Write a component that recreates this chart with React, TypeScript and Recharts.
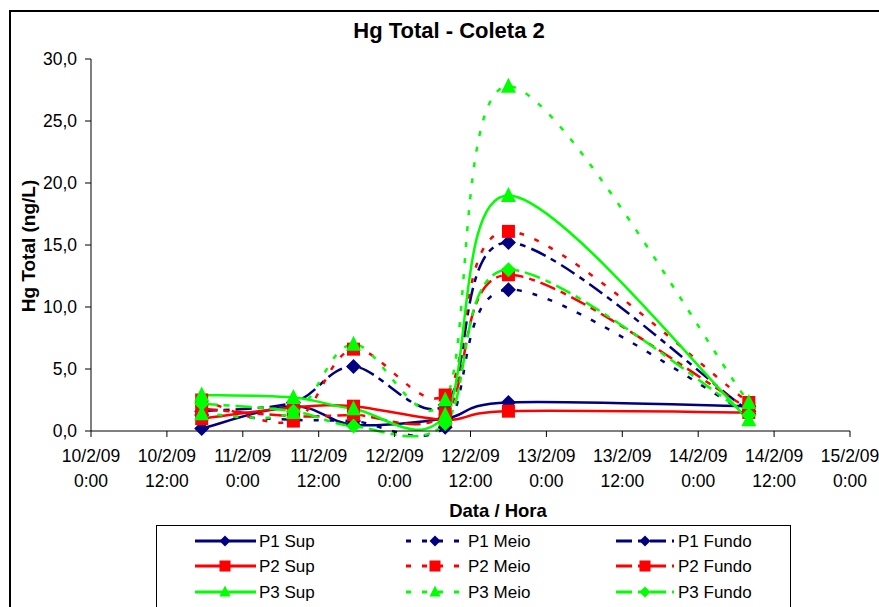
import React from "react";
import { LineChart, Line, XAxis, YAxis } from "recharts";

// sampling times, in hours after 10/2/09 0:00
const sampleHours = [17.5, 32, 41.5, 56, 66, 104];

const p1Sup = [0.2, 2.0, 0.5, 1.0, 2.3, 2.0];
const p1Meio = [1.3, 0.9, 0.8, 0.3, 11.4, 1.4];
const p1Fundo = [1.6, 2.3, 5.2, 2.1, 15.2, 1.6];
const p2Sup = [1.0, 1.9, 2.0, 0.9, 1.6, 1.5];
const p2Meio = [2.5, 0.8, 6.6, 2.9, 16.1, 2.3];
const p2Fundo = [1.8, 1.2, 1.3, 1.4, 12.6, 1.8];
const p3Sup = [2.9, 2.7, 1.8, 1.3, 19.0, 0.9];
const p3Meio = [1.4, 1.5, 7.0, 2.5, 27.8, 2.3];
const p3Fundo = [2.2, 1.6, 0.4, 0.6, 13.0, 1.3];

const xTickHours = [0, 12, 24, 36, 48, 60, 72, 84, 96, 108, 120];
const xTickDates = ["10/2/09", "10/2/09", "11/2/09", "11/2/09", "12/2/09", "12/2/09", "13/2/09", "13/2/09", "14/2/09", "14/2/09", "15/2/09"];
const xTickTimes = ["0:00", "12:00", "0:00", "12:00", "0:00", "12:00", "0:00", "12:00", "0:00", "12:00", "0:00"];
const yTicks = [0, 5, 10, 15, 20, 25, 30];
const yTickLabels = ["0,0", "5,0", "10,0", "15,0", "20,0", "25,0", "30,0"];

const NAVY = "#000080";
const RED = "#FF0000";
const GREEN = "#00FF00";
const DOTTED = "5 11";
const DASHDOT = "16 6 6 6";

const series = [
  { name: "P1 Sup", values: p1Sup, color: NAVY, dash: undefined, marker: "diamond" },
  { name: "P1 Meio", values: p1Meio, color: NAVY, dash: DOTTED, marker: "diamond" },
  { name: "P1 Fundo", values: p1Fundo, color: NAVY, dash: DASHDOT, marker: "diamond" },
  { name: "P2 Sup", values: p2Sup, color: RED, dash: undefined, marker: "square" },
  { name: "P2 Meio", values: p2Meio, color: RED, dash: DOTTED, marker: "square" },
  { name: "P2 Fundo", values: p2Fundo, color: RED, dash: DASHDOT, marker: "square" },
  { name: "P3 Sup", values: p3Sup, color: GREEN, dash: undefined, marker: "triangle" },
  { name: "P3 Meio", values: p3Meio, color: GREEN, dash: DOTTED, marker: "triangle" },
  { name: "P3 Fundo", values: p3Fundo, color: GREEN, dash: DASHDOT, marker: "diamond" },
];

const data = sampleHours.map((t, i) => {
  const row: Record<string, number> = { t };
  series.forEach((s) => (row[s.name] = s.values[i]));
  return row;
});

const FONT = "'Liberation Sans', Arial, sans-serif";

// Excel-like smoothed line (Catmull-Rom through the points)
const excelSmooth = (context: any) => {
  let pts: number[][] = [];
  return {
    areaStart() {},
    areaEnd() {},
    lineStart() {
      pts = [];
    },
    point(x: number, y: number) {
      pts.push([+x, +y]);
    },
    lineEnd() {
      const n = pts.length;
      if (!n) return;
      context.moveTo(pts[0][0], pts[0][1]);
      for (let i = 0; i < n - 1; i++) {
        const p0 = pts[Math.max(i - 1, 0)];
        const p1 = pts[i];
        const p2 = pts[i + 1];
        const p3 = pts[Math.min(i + 2, n - 1)];
        context.bezierCurveTo(
          p1[0] + (p2[0] - p0[0]) / 6,
          p1[1] + (p2[1] - p0[1]) / 6,
          p2[0] - (p3[0] - p1[0]) / 6,
          p2[1] - (p3[1] - p1[1]) / 6,
          p2[0],
          p2[1]
        );
      }
    },
  };
};

function Marker({ shape, cx, cy, color, r }: { shape: string; cx: number; cy: number; color: string; r: number }) {
  if (shape === "square") {
    return <rect x={cx - r} y={cy - r} width={2 * r} height={2 * r} fill={color} />;
  }
  if (shape === "triangle") {
    return (
      <polygon
        points={`${cx},${cy - r - 1} ${cx + r},${cy + r - 1} ${cx - r},${cy + r - 1}`}
        fill={color}
      />
    );
  }
  return (
    <polygon
      points={`${cx},${cy - r} ${cx + r},${cy} ${cx},${cy + r} ${cx - r},${cy}`}
      fill={color}
    />
  );
}

const markerSize: Record<string, number> = { diamond: 7.5, square: 6.5, triangle: 7.5 };

function XTick({ x, y, payload }: any) {
  const i = xTickHours.indexOf(payload.value);
  return (
    <g transform={`translate(${x},${y})`}>
      <text textAnchor="middle" fontFamily={FONT} fontSize={17.5} fill="#000">
        <tspan x={0} dy={23}>{xTickDates[i]}</tspan>
        <tspan x={0} dy={25}>{xTickTimes[i]}</tspan>
      </text>
    </g>
  );
}

function ChartLegend() {
  const rows = [533, 558, 584];
  const cols = [
    { x1: 187, x2: 248, mx: 217, tx: 251 },
    { x1: 398, x2: 454, mx: 427, tx: 460 },
    { x1: 608, x2: 666, mx: 637, tx: 670 },
  ];
  return (
    <g>
      <rect x={148.5} y={517.5} width={634} height={120} fill="#fff" stroke="#000" strokeWidth={1} />
      {series.map((s, i) => {
        const c = cols[i % 3];
        const y = rows[Math.floor(i / 3)];
        return (
          <g key={s.name}>
            <line x1={c.x1} x2={c.x2} y1={y} y2={y} stroke={s.color} strokeWidth={3} strokeDasharray={s.dash} />
            <Marker shape={s.marker} cx={c.mx} cy={y} color={s.color} r={5.5} />
            <text x={c.tx} y={y + 6} fontFamily={FONT} fontSize={17} fill="#000">
              {s.name}
            </text>
          </g>
        );
      })}
    </g>
  );
}

export default function App() {
  return (
    <div
      style={{
        position: "fixed",
        left: 8,
        top: 8,
        width: 871,
        height: 599,
        overflow: "hidden",
        background: "#fff",
      }}
    >
      <div
        style={{
          position: "absolute",
          left: 1,
          top: 2,
          width: 1000,
          height: 1000,
          borderLeft: "2px solid #000",
          borderTop: "2px solid #000",
        }}
      />
      <div style={{ position: "absolute", left: 0, top: 0 }}>
        <LineChart width={871} height={599} data={data} margin={{ top: 51, right: 29, left: 0, bottom: 0 }}>
          <XAxis
            dataKey="t"
            type="number"
            domain={[0, 120]}
            ticks={xTickHours}
            interval={0}
            height={176}
            axisLine={{ stroke: "#000" }}
            tickLine={{ stroke: "#000" }}
            tickSize={6}
            tickMargin={2}
            tick={<XTick />}
          />
          <YAxis
            type="number"
            domain={[0, 30]}
            ticks={yTicks}
            interval={0}
            width={83}
            axisLine={{ stroke: "#000" }}
            tickLine={{ stroke: "#000" }}
            tickSize={6}
            tickMargin={8}
            tickFormatter={(v: number) => yTickLabels[yTicks.indexOf(v)]}
            tick={{ fill: "#000", fontSize: 17.5, fontFamily: FONT }}
          />
          {series.map((s) => (
            <Line
              key={s.name}
              dataKey={s.name}
              name={s.name}
              type={excelSmooth as any}
              stroke={s.color}
              strokeWidth={2.5}
              strokeDasharray={s.dash}
              isAnimationActive={false}
              activeDot={false}
              dot={(p: any) => (
                <Marker
                  key={`${s.name}-${p.index}`}
                  shape={s.marker}
                  cx={p.cx}
                  cy={p.cy}
                  color={s.color}
                  r={markerSize[s.marker]}
                />
              )}
            />
          ))}
        </LineChart>
      </div>
      <svg width={871} height={599} style={{ position: "absolute", left: 0, top: 0, pointerEvents: "none" }}>
        <text x={441} y={30} textAnchor="middle" fontFamily={FONT} fontSize={22} fontWeight="bold" fill="#000">
          Hg Total - Coleta 2
        </text>
        <text x={490} y={509} textAnchor="middle" fontFamily={FONT} fontSize={18.5} fontWeight="bold" fill="#000">
          Data / Hora
        </text>
        <text
          transform="translate(27,238) rotate(-90)"
          textAnchor="middle"
          fontFamily={FONT}
          fontSize={19}
          fontWeight="bold"
          fill="#000"
        >
          Hg Total (ng/L)
        </text>
        <ChartLegend />
      </svg>
    </div>
  );
}
